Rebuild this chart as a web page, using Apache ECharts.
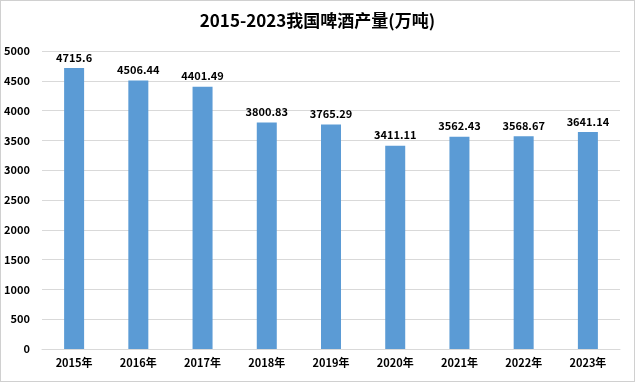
<!DOCTYPE html>
<html><head><meta charset="utf-8">
<script src="https://cdn.jsdelivr.net/npm/echarts@6/dist/echarts.min.js"></script>
<style>html,body{margin:0;padding:0;background:#fff}#c{width:635px;height:382px;box-sizing:border-box;border:1px solid #d0d0d0}</style>
</head><body><div id="c"></div>
<script>
const categories = ['2015年','2016年','2017年','2018年','2019年','2020年','2021年','2022年','2023年'];
const values = [4715.6, 4506.44, 4401.49, 3800.83, 3765.29, 3411.11, 3562.43, 3568.67, 3641.14];
const yTicks = [0, 500, 1000, 1500, 2000, 2500, 3000, 3500, 4000, 4500, 5000];
const title = '2015-2023我国啤酒产量(万吨)';
const font = '"Noto Sans CJK SC","Noto Sans",sans-serif';
const chart = echarts.init(document.getElementById('c'));
chart.setOption({
  animation: false,
  title: {text: title, left: 'center', top: 6, textStyle: {fontFamily: font, fontSize: 17, fontWeight: 'bold', color: '#000'}},
  grid: {left: 41, right: 14, top: 50, bottom: 32},
  xAxis: {type: 'category', data: categories,
    axisLine: {lineStyle: {color: '#d9d9d9'}}, axisTick: {show: false},
    axisLabel: {fontFamily: font, fontSize: 11, fontWeight: 'bold', color: '#000', margin: 8}},
  yAxis: {type: 'value', min: yTicks[0], max: yTicks[yTicks.length-1], interval: 500,
    axisLine: {show: false}, axisTick: {show: false},
    splitLine: {lineStyle: {color: '#d9d9d9'}},
    axisLabel: {fontFamily: font, fontSize: 11, fontWeight: 'bold', color: '#000', margin: 12, formatter: v => String(v)}},
  series: [{type: 'bar', data: values, barWidth: 20, itemStyle: {color: '#5B9BD5'},
    label: {show: true, position: 'top', distance: 5, fontFamily: font, fontSize: 11, fontWeight: 'bold', color: '#000', formatter: p => String(p.value)}}]
});
</script></body></html>
